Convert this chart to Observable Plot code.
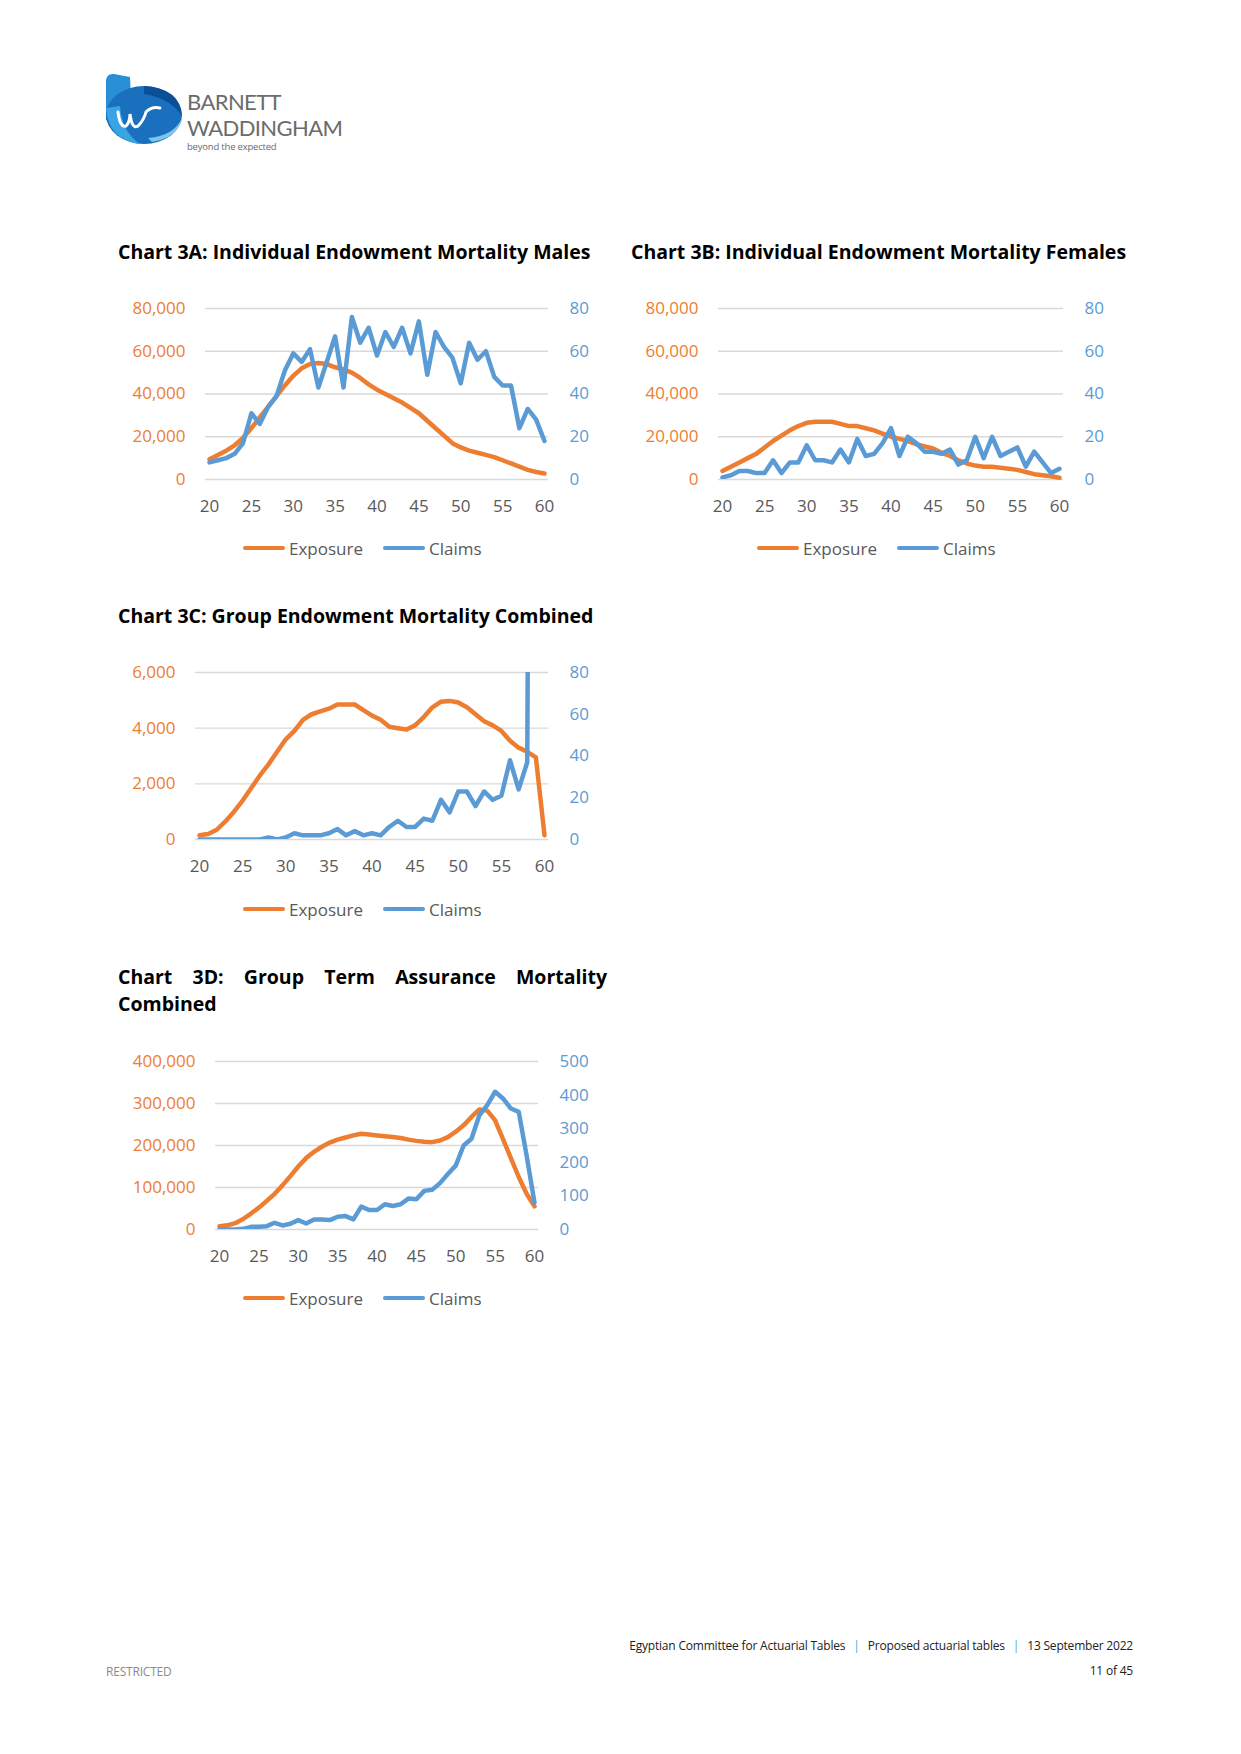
<!DOCTYPE html>
<html>
<head>
<meta charset="utf-8">
<script src="https://cdn.jsdelivr.net/npm/d3@7"></script>
<script src="https://cdn.jsdelivr.net/npm/@observablehq/plot@0.6"></script>
<style>
  html, body { margin: 0; padding: 0; background: #fff; }
  body { width: 1241px; height: 1754px; position: relative; overflow: hidden; font-family: "Open Sans", sans-serif; }
  .abs { position: absolute; }
  .title { font-family: "Open Sans", sans-serif; font-weight: 700; font-size: 19.5px; color: #000; line-height: 27px; white-space: nowrap; letter-spacing: 0px; }
  .title.just { white-space: normal; text-align: justify; text-align-last: left; width: 489px; }
  .legend { display: flex; align-items: center; font-size: 17px; color: #595959; font-family: "Open Sans", sans-serif; height: 24px; }
  .legend .sw { width: 42px; height: 4.5px; border-radius: 2px; margin-right: 4px; }
  .legend .gap { width: 20px; }
  .footer { font-family: "Open Sans", sans-serif; font-size: 12px; color: #222; white-space: nowrap; letter-spacing: -0.2px; }
  .footer .sep { color: #4fa3d9; margin: 0 8px; }
  .brand { font-family: Lato, sans-serif; font-size: 22px; line-height: 28px; color: #6b6b6b; letter-spacing: -0.6px; white-space: nowrap; }
</style>
</head>
<body>
<script>
// ---------- data ----------
const ages = d3.range(20, 61);
const xTicks = [20, 25, 30, 35, 40, 45, 50, 55, 60];

const exposure3A = [9500,11500,13500,16000,19500,24000,29000,34000,39000,44000,48500,52000,54000,54500,54000,52500,51500,50000,47500,44500,42000,40000,38000,36000,33500,31000,27500,24000,20500,17000,15000,13500,12500,11500,10500,9000,7500,6000,4500,3500,2800];
const claims3A = [8,9,10,12,17,31,26,34,39,51,59,55,61,43,55,67,43,76,64,71,58,69,62,71,59,74,49,69,62,57,45,64,56,60,48,44,44,24,33,28,18];
const leftTicks3A = [0, 20000, 40000, 60000, 80000];
const rightTicks3A = [0, 20, 40, 60, 80];

const exposure3B = [4000,6000,8000,10000,12000,15000,18000,20500,23000,25000,26500,27000,27000,27000,26000,25000,25000,24000,23000,21500,20000,19000,18000,16500,15500,14500,12500,11000,9000,7500,6500,6000,6000,5500,5000,4500,3500,2500,2000,1500,800];
const claims3B = [1,2,4,4,3,3,9,3,8,8,16,9,9,8,14,8,19,11,12,17,24,11,20,17,13,13,12,14,7,9,20,10,20,11,13,15,6,13,8,3,5];
const leftTicks3B = [0, 20000, 40000, 60000, 80000];
const rightTicks3B = [0, 20, 40, 60, 80];

const exposure3C = [150,200,350,650,1000,1400,1850,2300,2700,3150,3600,3900,4300,4500,4600,4700,4850,4850,4850,4650,4450,4300,4050,4000,3950,4100,4400,4750,4950,4980,4920,4750,4500,4250,4100,3900,3550,3300,3150,2950,150];
const claims3C = [0,0,0,0,0,0,0,0,1,0,1,3,2,2,2,3,5,2,4,2,3,2,6,9,6,6,10,9,19,13,23,23,16,23,19,21,38,24,37,900,null];
const leftTicks3C = [0, 2000, 4000, 6000];
const rightTicks3C = [0, 20, 40, 60, 80];

const exposure3D = [8000,10000,15000,25000,38000,52000,68000,85000,105000,127000,150000,170000,185000,197000,207000,214000,219000,224000,228000,226000,224000,222000,220000,218000,214000,211000,209000,208000,212000,220000,233000,248000,268000,286000,283000,260000,215000,170000,125000,85000,55000];
const claims3D = [0,0,0,2,8,8,10,20,12,17,28,18,30,30,28,38,40,30,68,58,58,75,70,75,92,90,115,118,138,165,190,250,270,340,370,410,390,360,350,220,80];
const leftTicks3D = [0, 100000, 200000, 300000, 400000];
const rightTicks3D = [0, 100, 200, 300, 400, 500];

const seriesNames = ["Exposure", "Claims"];

// ---------- style ----------
const ORANGE = "#ED7D31";
const BLUE = "#5B9BD5";
const fmt = d3.format(",");

function addDiv(cls, left, top, html) {
  const d = document.createElement("div");
  d.className = "abs " + cls;
  d.style.left = left + "px";
  d.style.top = top + "px";
  d.innerHTML = html;
  document.body.appendChild(d);
  return d;
}

function chart(cfg) {
  const data = ages.map((a, i) => ({age: a, exposure: cfg.exposure[i], claims: cfg.claims[i]}));
  const leftMax = cfg.leftTicks[cfg.leftTicks.length - 1];
  const rightMax = cfg.rightTicks[cfg.rightTicks.length - 1];
  const factor = leftMax / rightMax;
  const mL = 100, mR = 70, mT = 20, mB = 50;
  const width = (cfg.frame[1] - cfg.frame[0]) + mL + mR;
  const height = (cfg.frame[3] - cfg.frame[2]) + mT + mB;
  const svg = Plot.plot({
    width, height,
    marginLeft: mL, marginRight: mR, marginTop: mT, marginBottom: mB,
    style: {fontFamily: "'Open Sans', sans-serif", fontSize: "17px", background: "transparent", overflow: "visible"},
    x: {domain: [20, 60], insetLeft: 4, insetRight: 4, axis: null},
    y: {domain: [0, leftMax], axis: null},
    marks: [
      Plot.ruleY(cfg.leftTicks, {stroke: "#D9D9D9", strokeWidth: 1.3}),
      Plot.axisX(xTicks, {anchor: "bottom", tickSize: 0, tickPadding: 20, color: "#595959", label: null, tickFormat: d => String(d)}),
      Plot.axisY(cfg.leftTicks, {anchor: "left", tickSize: 0, tickPadding: 20, color: ORANGE, label: null, tickFormat: fmt}),
      Plot.axisY(cfg.rightTicks.map(t => t * factor), {anchor: "right", tickSize: 0, tickPadding: 21, color: BLUE, label: null, tickFormat: d => fmt(Math.round(d / factor))}),
      Plot.line(data, {x: "age", y: "exposure", stroke: ORANGE, strokeWidth: 4.5, strokeLinejoin: "round", strokeLinecap: "round"}),
      Plot.line(data, {x: "age", y: d => d.claims == null ? NaN : d.claims * factor, stroke: BLUE, strokeWidth: 4.5, strokeLinejoin: "round", strokeLinecap: "round", clip: true})
    ]
  });
  const holder = document.createElement("div");
  holder.className = "abs";
  holder.style.left = (cfg.frame[0] - mL) + "px";
  holder.style.top = (cfg.frame[2] - mT) + "px";
  holder.appendChild(svg);
  document.body.appendChild(holder);

  // legend
  addDiv("legend", cfg.legend[0], cfg.legend[1] - 12,
    `<span class="sw" style="background:${ORANGE}"></span><span>${seriesNames[0]}</span><span class="gap"></span>` +
    `<span class="sw" style="background:${BLUE}"></span><span>${seriesNames[1]}</span>`);
}

// ---------- logo ----------
addDiv("", 100, 68, `
<svg width="90" height="92" viewBox="0 0 90 92" xmlns="http://www.w3.org/2000/svg">
  <path d="M6,14 Q6,5 14,6 L30,9 L32,52 L6,52 Z" fill="#2a8fd6"/>
  <ellipse cx="44" cy="47" rx="38" ry="29" fill="#1a6fbf"/>
  <path d="M6,40 Q8,72 40,76 Q22,64 20,38 Z" fill="#3aa3e3"/>
  <path d="M44,18 Q80,20 82,48 Q70,30 44,26 Z" fill="#0b4f97"/>
  <path d="M52,74 Q78,70 82,50 Q74,68 48,70 Z" fill="#7cc6ee"/>
  <path d="M18,44 Q20,60 26,58 Q30,54 30,46 Q32,62 38,58 Q44,52 46,44 Q52,38 60,40" fill="none" stroke="#fff" stroke-width="3" stroke-linecap="round"/>
</svg>`);
addDiv("brand", 187, 88, "BARNETT");
addDiv("brand", 187, 114, "WADDINGHAM");
addDiv("", 187, 141, `<div style="font-family:'Open Sans',sans-serif;font-size:9.5px;line-height:12px;color:#6b6b6b;letter-spacing:-0.2px">beyond the expected</div>`);

// ---------- titles ----------
addDiv("title", 118, 238, "Chart 3A: Individual Endowment Mortality Males");
addDiv("title", 631, 238, "Chart 3B: Individual Endowment Mortality Females");
addDiv("title", 118, 602, "Chart 3C: Group Endowment Mortality Combined");
addDiv("title just", 118, 963, "Chart 3D: Group Term Assurance Mortality Combined");

// ---------- charts ----------
chart({exposure: exposure3A, claims: claims3A, leftTicks: leftTicks3A, rightTicks: rightTicks3A, frame: [205, 548, 308, 479], legend: [243, 548]});
chart({exposure: exposure3B, claims: claims3B, leftTicks: leftTicks3B, rightTicks: rightTicks3B, frame: [718, 1063, 308, 479], legend: [757, 548]});
chart({exposure: exposure3C, claims: claims3C, leftTicks: leftTicks3C, rightTicks: rightTicks3C, frame: [195, 548, 672, 839], legend: [243, 909]});
chart({exposure: exposure3D, claims: claims3D, leftTicks: leftTicks3D, rightTicks: rightTicks3D, frame: [215, 538, 1061, 1229], legend: [243, 1298]});

// ---------- footer ----------
const f1 = addDiv("footer", 0, 1637, `Egyptian Committee for Actuarial Tables<span class="sep">|</span>Proposed actuarial tables<span class="sep">|</span>13 September 2022`);
f1.style.left = ""; f1.style.right = (1241 - 1133) + "px";
const f2 = addDiv("footer", 0, 1662, "11 of 45");
f2.style.left = ""; f2.style.right = (1241 - 1133) + "px";
addDiv("footer", 106, 1663, `<span style="color:#8a8a8a">RESTRICTED</span>`);
</script>
</body>
</html>
